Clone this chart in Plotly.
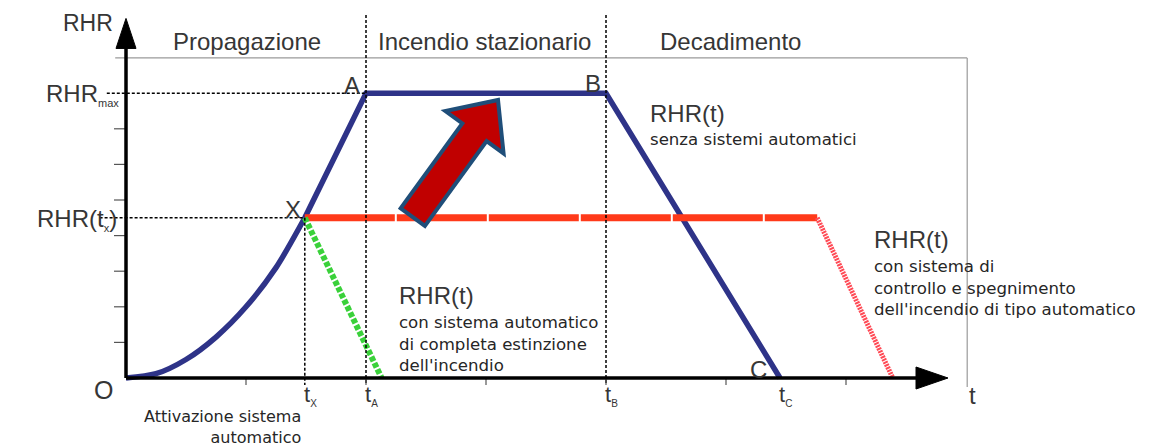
import math
import plotly.graph_objects as go

# Canvas / scale (reference picture is 1149 x 445 px, page adds an 8px body margin)
W, H = 1149, 445
ORIGIN_PX = (118, 370)      # where t=0, RHR=0 sits inside the figure
PX_T = 120.0                # px per time unit
PX_R = 35.6                 # px per RHR unit

# ---------------- data ----------------
x_ticks = [1, 2, 3, 4, 5, 6]
y_ticks = [1, 2, 3, 4, 5, 6, 7]

t_x = 1.49          # activation of the automatic system
t_a = 2.0
t_b = 4.0
t_c = 5.45
rhr_max = 8.0
rhr_tx = 4.5

# growth phase O -> X
growth_t = [0, 0.25, 0.5, 0.75, 1.0, 1.25, 1.49]
growth_rhr = [0, 0.12, 0.52, 1.15, 2.0, 3.1, 4.5]

# no automatic systems: X -> A -> B -> C
blue_t = [t_x, t_a, t_b, t_c]
blue_rhr = [rhr_tx, rhr_max, rhr_max, 0]

# control + automatic extinguishing
red_flat_t = [t_x, 5.76]
red_flat_rhr = [rhr_tx, rhr_tx]
red_fall_t = [5.76, 6.39]
red_fall_rhr = [rhr_tx, 0]

# complete automatic extinction
green_t = [t_x, 2.13]
green_rhr = [rhr_tx, 0]

t_axis_end = 6.85
rhr_axis_end = 10.1
frame_right = 7.01
frame_top = 8.99

# big block arrow (tail, tip) in data units
big_arrow_tail = (2.39, 4.52)
big_arrow_tip = (3.1, 7.81)

FONT = "Liberation Sans"
SMALL_FONT = "DejaVu Sans"
TXT = "#363636"
SMALL_TXT = "#262626"
BLUE = "#2e3388"


def to_px(t, r):
    return ORIGIN_PX[0] + t * PX_T, ORIGIN_PX[1] - r * PX_R


def to_data(px, py):
    return (px - ORIGIN_PX[0]) / PX_T, (ORIGIN_PX[1] - py) / PX_R


def poly_path(pts):
    return "M " + " L ".join(f"{x:.4f},{y:.4f}" for x, y in pts) + " Z"


fig = go.Figure()

# frame (thin grey)
fig.add_shape(type="line", x0=-0.09, x1=frame_right, y0=frame_top, y1=frame_top,
              line=dict(color="#9a9a9a", width=1.2), layer="below")
fig.add_shape(type="line", x0=frame_right, x1=frame_right, y0=frame_top, y1=-0.25,
              line=dict(color="#9a9a9a", width=1.2), layer="below")

# dashed guides
dash = dict(color="black", width=1.5, dash="3px,2px")
fig.add_shape(type="line", x0=-0.16, x1=t_a, y0=rhr_max, y1=rhr_max, line=dash)
fig.add_shape(type="line", x0=-0.22, x1=t_x, y0=rhr_tx, y1=rhr_tx, line=dash)
fig.add_shape(type="line", x0=t_x, x1=t_x, y0=rhr_tx, y1=-0.2, line=dash)
fig.add_shape(type="line", x0=t_a, x1=t_a, y0=10.2, y1=-0.2, line=dash)
fig.add_shape(type="line", x0=t_b, x1=t_b, y0=10.2, y1=-0.2, line=dash)

# ticks
for t in x_ticks:
    fig.add_shape(type="line", x0=t, x1=t, y0=0, y1=-0.2,
                  line=dict(color="#555", width=1.2))
for r in y_ticks:
    fig.add_shape(type="line", x0=-0.1, x1=0, y0=r, y1=r,
                  line=dict(color="#555", width=1.2))

# curves
fig.add_trace(go.Scatter(x=growth_t, y=growth_rhr, mode="lines",
                         line=dict(color=BLUE, width=5.5, shape="spline", smoothing=0.8)))
fig.add_trace(go.Scatter(x=blue_t, y=blue_rhr, mode="lines",
                         line=dict(color=BLUE, width=5.5)))
fig.add_trace(go.Scatter(x=red_flat_t, y=red_flat_rhr, mode="lines",
                         line=dict(color="#ff3a1a", width=7, dash="90px,2px")))
fig.add_trace(go.Scatter(x=red_fall_t, y=red_fall_rhr, mode="lines",
                         line=dict(color="#ff4a55", width=5, dash="2px,1px")))
fig.add_trace(go.Scatter(x=green_t, y=green_rhr, mode="lines",
                         line=dict(color="#3ad13a", width=6, dash="5px,2px")))

# axes with arrow heads
fig.add_shape(type="line", x0=0, x1=t_axis_end - 0.2, y0=0, y1=0,
              line=dict(color="black", width=3.5))
fig.add_shape(type="line", x0=0, x1=0, y0=0, y1=rhr_axis_end - 0.6,
              line=dict(color="black", width=3.5))
tx, ty = to_px(t_axis_end, 0)
fig.add_shape(type="path", fillcolor="black", line=dict(color="black", width=1),
              path=poly_path([to_data(tx, ty), to_data(tx - 32, ty - 11), to_data(tx - 32, ty + 11)]))
tx, ty = to_px(0, rhr_axis_end)
fig.add_shape(type="path", fillcolor="black", line=dict(color="black", width=1),
              path=poly_path([to_data(tx, ty), to_data(tx - 10, ty + 30), to_data(tx + 10, ty + 30)]))

# big red block arrow
ax0, ay0 = to_px(*big_arrow_tail)
ax1, ay1 = to_px(*big_arrow_tip)
L = math.hypot(ax1 - ax0, ay1 - ay0)
ux, uy = (ax1 - ax0) / L, (ay1 - ay0) / L
nx, ny = -uy, ux
shaft_w, head_w, head_l = 15, 36, 40
neck = (ax1 - ux * head_l, ay1 - uy * head_l)
pts = [
    (ax0 + nx * shaft_w, ay0 + ny * shaft_w),
    (neck[0] + nx * shaft_w, neck[1] + ny * shaft_w),
    (neck[0] + nx * head_w, neck[1] + ny * head_w),
    (ax1, ay1),
    (neck[0] - nx * head_w, neck[1] - ny * head_w),
    (neck[0] - nx * shaft_w, neck[1] - ny * shaft_w),
    (ax0 - nx * shaft_w, ay0 - ny * shaft_w),
]
fig.add_shape(type="path", path=poly_path([to_data(*p) for p in pts]),
              fillcolor="#c00000", line=dict(color="#1f4e79", width=4))


def label(x, y, text, size=24, xanchor="center", yanchor="middle", align="left",
          family=FONT, color=TXT):
    fig.add_annotation(x=x, y=y, text=text, showarrow=False, xanchor=xanchor,
                       yanchor=yanchor, align=align,
                       font=dict(family=family, size=size, color=color))


# phase titles
label(1.01, 9.44, "Propagazione")
label(2.99, 9.44, "Incendio stazionario")
label(5.04, 9.44, "Decadimento")

# axis titles
label(-0.32, 9.98, "RHR", size=23)
label(7.05, -0.48, "t")
label(-0.19, -0.34, "O", size=25)

# y labels
label(-0.04, rhr_max - 0.05, "RHR<sub><span style='font-size:11px'>max</span></sub>",
      xanchor="right")
label(-0.06, rhr_tx - 0.05, "RHR(t<sub><span style='font-size:11px'>x</span></sub>)",
      xanchor="right")

# point labels
label(1.88, 8.23, "A")
label(3.89, 8.26, "B")
label(1.39, 4.72, "X")
label(5.27, 0.25, "C")

# time labels
for tv, sub in [(t_x, "X"), (t_a, "A"), (t_b, "B"), (t_c, "C")]:
    label(tv - 0.025, -0.5, f"t<sub><span style='font-size:10px'>{sub}</span></sub>",
          size=22, xanchor="left")

label(1.475, -1.38, "Attivazione sistema<br>automatico", size=16, family=SMALL_FONT,
      xanchor="right", align="right", color=SMALL_TXT)

# curve descriptions
label(4.35, 7.44, "RHR(t)", xanchor="left")
label(4.35, 6.69, "senza sistemi automatici", size=16.6, family=SMALL_FONT,
      xanchor="left", color=SMALL_TXT)
label(2.26, 2.33, "RHR(t)", xanchor="left")
label(2.26, 1.88, "con sistema automatico<br>di completa estinzione<br>dell'incendio",
      size=16.6, family=SMALL_FONT, xanchor="left", yanchor="top", color=SMALL_TXT)
label(6.22, 3.88, "RHR(t)", xanchor="left")
label(6.22, 3.46, "con sistema di<br>controllo e spegnimento<br>dell'incendio di tipo automatico",
      size=16.6, family=SMALL_FONT, xanchor="left", yanchor="top", color=SMALL_TXT)

fig.update_layout(
    width=W, height=H,
    margin=dict(l=0, r=0, t=0, b=0),
    paper_bgcolor="white", plot_bgcolor="white",
    showlegend=False,
    xaxis=dict(range=[-ORIGIN_PX[0] / PX_T, (W - ORIGIN_PX[0]) / PX_T], visible=False),
    yaxis=dict(range=[(ORIGIN_PX[1] - H) / PX_R, ORIGIN_PX[1] / PX_R], visible=False),
)

fig.write_html("out.html")
